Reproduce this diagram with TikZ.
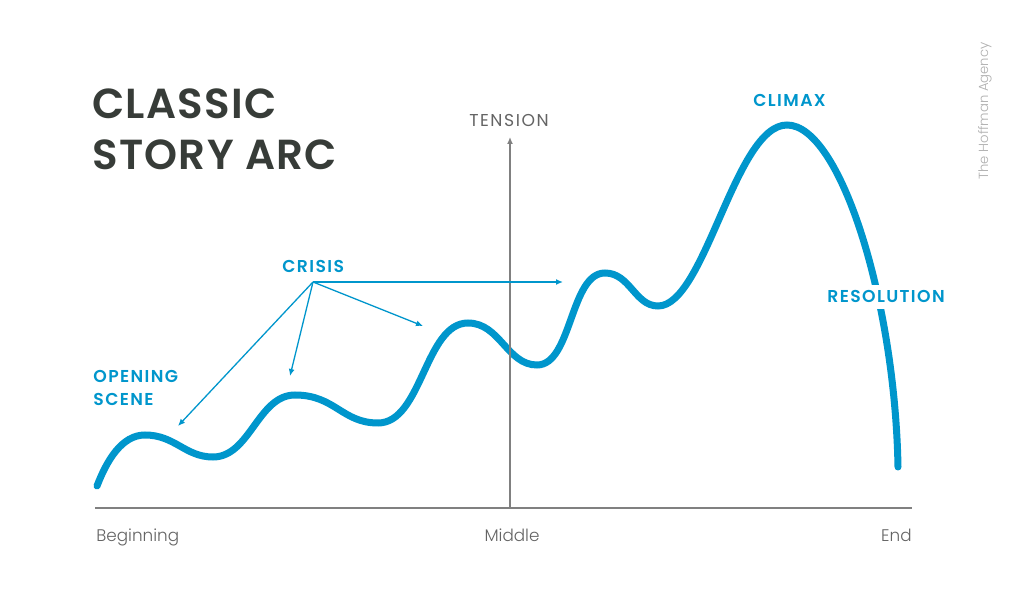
\documentclass[tikz,border=0pt]{standalone}
\usepackage{fontspec}
\setmainfont{Poppins}
\newfontfamily\headfont[LetterSpace=3]{Poppins SemiBold}
\newfontfamily\tagfont[LetterSpace=8]{Poppins SemiBold}
\newfontfamily\axisfont[LetterSpace=9]{Poppins}
\newfontfamily\lightfont{Poppins Light}
\usetikzlibrary{arrows.meta,positioning,calc}
\definecolor{cblue}{RGB}{0,150,204}
\definecolor{cdark}{RGB}{55,60,56}
\definecolor{caxis}{RGB}{128,128,128}
\definecolor{ctext}{RGB}{100,100,100}
\definecolor{cmark}{RGB}{175,175,175}

\begin{document}
\begin{tikzpicture}[
  x=0.5pt,y=-0.5pt,
  >={Latex[length=3.5pt,width=3pt]},
  heading/.style={font=\headfont\fontsize{21}{25.5}\selectfont,text=cdark,inner sep=0pt,anchor=base west},
  tag/.style={font=\tagfont\fontsize{8.6}{11.5}\selectfont,text=cblue,inner sep=0pt,anchor=base west},
  tick/.style={font=\lightfont\fontsize{8.4}{11}\selectfont,text=ctext,inner sep=0pt,anchor=base},
  arc/.style={cblue,line width=3.5pt,line cap=round},
  pointer/.style={->,cblue,line width=0.65pt},
  axis/.style={caxis,line width=0.75pt}
]
  \useasboundingbox[fill=white] (0,0) rectangle (1024,614);

  % story curve
  \draw[arc] (97,486) .. controls (107,460) and (122,435) .. (145,435)
    .. controls (175,435) and (185,457) .. (213,457)
    .. controls (250,457) and (258,395) .. (295,395)
    .. controls (335,395) and (342,423) .. (378,423)
    .. controls (422,423) and (425,323) .. (468,323)
    .. controls (500,323) and (507,365) .. (537,365)
    .. controls (572,365) and (570,273) .. (605,273)
    .. controls (630,273) and (635,306) .. (658,306)
    .. controls (705,306) and (735,125) .. (787,125)
    .. controls (840,125) and (895,300) .. (898,467);

  % axes
  \coordinate (origin) at (510,508);
  \coordinate (ytop) at (510,137);
  \coordinate (xleft) at (95,508);
  \coordinate (xright) at (912,508);
  \draw[axis] (xleft) -- (xright);
  \draw[axis,->] (origin) -- (ytop);
  \node[font=\axisfont\fontsize{8.6}{11}\selectfont,text=ctext,inner sep=0pt,anchor=base] (tension) at (509,127) {TENSION};
  \node[tick,anchor=base west] (begin) at (96,542) {Beginning};
  \node[tick] (middle) at (512,542) {Middle};
  \node[tick,anchor=base east] (end) at (912,542) {End};

  % labels
  \node[heading] (title1) at (92,119) {CLASSIC};
  \node[heading] (title2) at (92,170) {STORY ARC};
  \node[tag] (crisis) at (282,273) {CRISIS};
  \node[tag] (opening) at (93,383) {OPENING};
  \node[tag] (scene) at (93,406) {SCENE};
  \node[tag] (climax) at (753,107) {CLIMAX};
  \node[tag,fill=white,inner ysep=3pt] (resolution) at (827,303) {RESOLUTION};
  \node[font=\lightfont\fontsize{6.6}{8}\selectfont,text=cmark,rotate=90,inner sep=0pt] (agency) at (985,111) {The Hoffman Agency};

  % crisis pointers
  \coordinate (fork) at (313,282);
  \coordinate (hit1) at (178,426);
  \coordinate (hit2) at (290,376);
  \coordinate (hit3) at (423,326);
  \coordinate (hit4) at (563,282);
  \draw[pointer] (fork) -- (hit1);
  \draw[pointer] (fork) -- (hit2);
  \draw[pointer] (fork) -- (hit3);
  \draw[pointer] (fork) -- (hit4);
\end{tikzpicture}
\end{document}
